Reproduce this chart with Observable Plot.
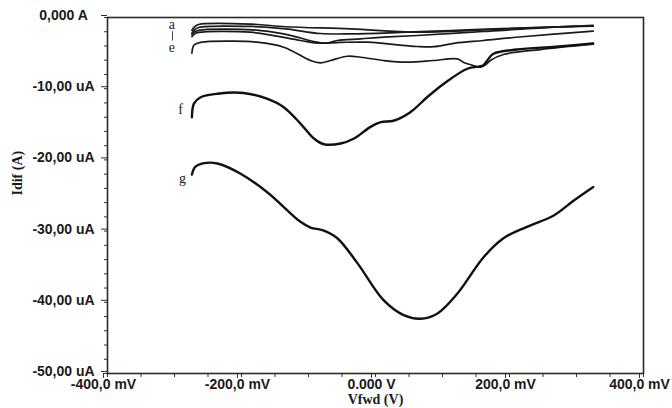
<!DOCTYPE html>
<html>
<head>
<meta charset="utf-8">
<script src="https://cdn.jsdelivr.net/npm/d3@7"></script>
<script src="https://cdn.jsdelivr.net/npm/@observablehq/plot@0.6"></script>
<style>
  html, body { margin: 0; padding: 0; background: #fff; }
  #chart svg { font-family: "Liberation Sans", Arial, sans-serif; }
</style>
</head>
<body>
<div id="chart"></div>
<script>
// Voltage (mV) and current (uA)
const aV = [-274, -270, -264, -184, -134, -37, 62, 161, 261, 325];
const aI = [-1.8, -1.3, -0.98, -0.94, -1.3, -1.6, -2.06, -1.73, -1.36, -1.12];
const bV = [-274, -270, -264, -184, -134, -82, -37, 37, 112, 187, 261, 325];
const bI = [-2.2, -1.7, -1.4, -1.26, -1.6, -2.25, -2.3, -2.1, -1.83, -1.55, -1.35, -1.2];
const cV = [-274, -270, -264, -184, -137, -87, -72, -57, -22, 12, 62, 161, 261, 325];
const cI = [-2.4, -2.0, -1.8, -1.73, -2.29, -3.47, -3.6, -3.23, -3.0, -2.77, -2.53, -1.97, -1.4, -1.19];
const dV = [-274, -270, -264, -187, -112, -87, -52, -12, 62, 87, 119, 161, 219, 325];
const dI = [-2.7, -2.3, -2.1, -2.06, -3.23, -3.6, -3.5, -3.47, -4.07, -4.1, -3.6, -3.23, -2.7, -1.92];
const eV = [-274, -271, -261, -212, -177, -137, -97, -82, -67, -42, -22, 12, 47, 87, 122, 131, 146, 157, 166, 172, 191, 246, 325];
const eI = [-5.0, -3.9, -3.5, -3.33, -3.47, -4.17, -6.04, -6.36, -6.04, -5.44, -5.58, -6.04, -6.28, -6.04, -5.8, -6.28, -6.74, -6.98, -6.5, -6.0, -5.2, -4.5, -3.75];
const fV = [-274, -271, -261, -236, -197, -162, -137, -112, -92, -77, -52, -32, -8, 8, 27, 52, 77, 102, 137, 161, 167, 176, 211, 269, 325];
const fI = [-14.0, -12.1, -11.2, -10.7, -10.6, -11.4, -12.6, -14.9, -17.0, -17.8, -17.7, -17.0, -15.4, -14.7, -14.5, -13.3, -11.2, -9.3, -7.2, -6.7, -6.0, -5.1, -4.5, -4.1, -3.65];
const gV = [-274, -269, -256, -236, -202, -162, -112, -97, -78, -57, -27, 12, 42, 67, 92, 122, 161, 191, 226, 266, 296, 325];
const gI = [-22.05, -20.98, -20.46, -20.5, -21.9, -24.5, -28.7, -29.5, -29.9, -31.0, -34.5, -39.7, -41.8, -42.3, -41.6, -38.8, -33.7, -31.0, -29.4, -27.8, -25.7, -23.8];

const seriesNames = ["a", "b", "c", "d", "e", "f", "g"];
const seriesV = [aV, bV, cV, dV, eV, fV, gV];
const seriesI = [aI, bI, cI, dI, eI, fI, gI];

// Curve labels (text, voltage mV, current uA)
const labelTexts = ["a", "e", "f", "g"];
const labelV = [-304, -304, -291, -288];
const labelI = [-1.0, -4.2, -12.9, -22.6];
// short bar joining "a" to "e" (voltage mV, current range uA)
const barV = [-303];
const barTop = [-2.0];
const barBottom = [-3.3];

const yTicks = [0, -10, -20, -30, -40, -50];
const yTickLabels = ["0,000 A", "-10,00 uA", "-20,00 uA", "-30,00 uA", "-40,00 uA", "-50,00 uA"];
const xTicks = [-400, -200, 0, 200, 400];
const xTickLabels = ["-400,0 mV", "-200,0 mV", "0.000 V", "200,0 mV", "400,0 mV"];
const xTitle = "Vfwd (V)";
const yTitle = "Idif (A)";

const rows = [];
seriesNames.forEach((n, k) => seriesV[k].forEach((v, j) => rows.push({name: n, v, i: seriesI[k][j]})));
const thick = new Set(["f", "g"]);
const labels = labelTexts.map((t, k) => ({t, v: labelV[k], i: labelI[k]}));
const bars = barV.map((v, k) => ({v, i1: barTop[k], i2: barBottom[k]}));

const chart = Plot.plot({
  width: 672,
  height: 408,
  marginLeft: 107,
  marginRight: 29,
  marginTop: 17,
  marginBottom: 35,
  style: {fontFamily: "Liberation Sans, Arial, sans-serif", fontSize: "14px", fontWeight: "bold", color: "#1a1a1a", background: "#fff"},
  x: {domain: [-400, 400], axis: null},
  y: {domain: [-50, 0], axis: null},
  marks: [
    Plot.line(rows.filter(d => !thick.has(d.name)), {x: "v", y: "i", z: "name", curve: "catmull-rom", stroke: "#1a1a1a", strokeWidth: 1.7}),
    Plot.line(rows.filter(d => thick.has(d.name)), {x: "v", y: "i", z: "name", curve: "catmull-rom", stroke: "#111", strokeWidth: 2.4}),
    Plot.text(labels, {x: "v", y: "i", text: "t", fontFamily: "Liberation Serif, Times New Roman, serif", fontWeight: "normal", fontSize: 14, fill: "#222"}),
    Plot.ruleX(bars, {x: "v", y1: "i1", y2: "i2", stroke: "#444", strokeWidth: 1}),
    Plot.axisY(d3.range(-50, 0.01, 2), {anchor: "left", tickSize: 3, tickFormat: () => "", label: null, stroke: "#333"}),
    Plot.axisY(yTicks, {anchor: "left", tickSize: 6, tickPadding: 38, textAnchor: "middle", dy: -2, tickFormat: v => yTickLabels[yTicks.indexOf(v)], label: null, stroke: "#333"}),
    Plot.axisX(d3.range(-400, 400.01, 50), {anchor: "bottom", tickSize: 4, tickFormat: () => "", label: null, stroke: "#333"}),
    Plot.axisX(xTicks, {anchor: "bottom", tickSize: 5, tickPadding: 1, dx: -4, tickFormat: v => xTickLabels[xTicks.indexOf(v)], label: null, stroke: "#333"}),
    Plot.frame({stroke: "#2a2a2a", strokeWidth: 1.6}),
    Plot.text([xTitle], {frameAnchor: "bottom", dy: 30, text: d => d, fontFamily: "Liberation Serif, Times New Roman, serif", fontWeight: "bold", fontSize: 14}),
    Plot.text([yTitle], {frameAnchor: "left", dx: -90, rotate: -90, text: d => d, fontFamily: "Liberation Serif, Times New Roman, serif", fontWeight: "bold", fontSize: 14})
  ]
});
document.getElementById("chart").appendChild(chart);
</script>
</body>
</html>
